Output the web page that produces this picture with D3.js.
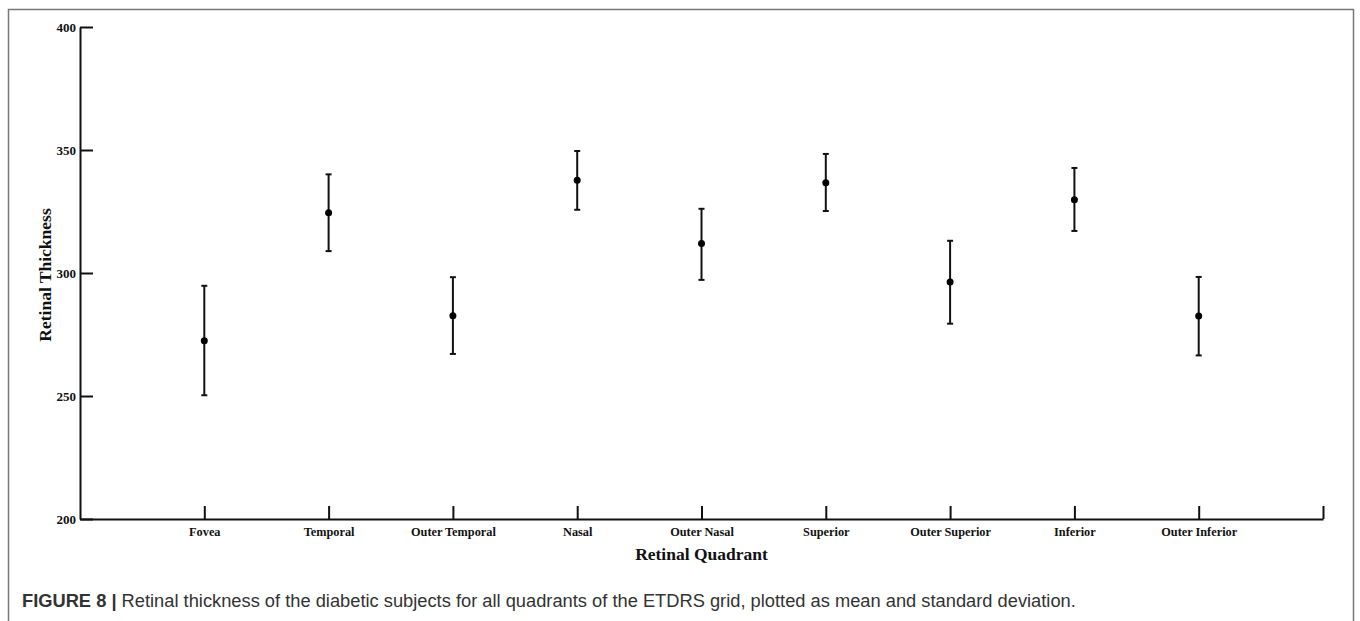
<!DOCTYPE html>
<html><head><meta charset="utf-8">
<script src="https://cdn.jsdelivr.net/npm/d3@7"></script>
<style>body{margin:0;background:#fff}</style>
</head><body>
<svg id="c" width="1360" height="621"></svg>
<script>
const categories = ["Fovea","Temporal","Outer Temporal","Nasal","Outer Nasal","Superior","Outer Superior","Inferior","Outer Inferior"];
const means = [272.5, 324.5, 282.6, 337.7, 312.0, 336.7, 296.3, 329.8, 282.5];
const uppers = [294.8, 340.1, 298.3, 349.6, 326.1, 348.4, 313.1, 342.7, 298.4];
const lowers = [250.3, 308.9, 267.1, 325.7, 297.2, 325.2, 279.4, 317.1, 266.5];
const yTicks = [200, 250, 300, 350, 400];

const svg = d3.select("#c");
// frame
svg.append("rect").attr("x", 8.5).attr("y", 9.5).attr("width", 1345).attr("height", 640)
  .attr("fill", "none").attr("stroke", "#777").attr("stroke-width", 1.5);

const x = d3.scaleLinear().domain([0, 10]).range([80, 1323]);
const y = d3.scaleLinear().domain([200, 400]).range([519, 27]);

const serif = "'Liberation Serif','Times New Roman',serif";

// y axis
const ya = svg.append("g").attr("transform", "translate(80,0)")
  .call(d3.axisRight(y).tickValues(yTicks).tickSize(13).tickSizeOuter(0).tickFormat(d3.format("d")));
ya.select(".domain").attr("stroke", "#111").attr("stroke-width", 2);
ya.selectAll(".tick line").attr("stroke", "#111").attr("stroke-width", 2);
ya.selectAll(".tick text").attr("x", -4).attr("text-anchor", "end")
  .attr("font-family", serif).attr("font-weight", "bold").attr("font-size", 13).attr("fill", "#111");

// x axis
const xa = svg.append("g").attr("transform", "translate(0,519)")
  .call(d3.axisTop(x).tickValues([1,2,3,4,5,6,7,8,9,10]).tickSize(13).tickSizeOuter(0).tickFormat(d => categories[d-1] || ""));
xa.select(".domain").attr("stroke", "#111").attr("stroke-width", 2);
xa.selectAll(".tick line").attr("stroke", "#111").attr("stroke-width", 2);
xa.selectAll(".tick text").attr("y", 17).attr("dy", 0)
  .attr("font-family", serif).attr("font-weight", "bold").attr("font-size", 12.3).attr("fill", "#111");

// axis titles
svg.append("text").attr("x", x(5)).attr("y", 560).attr("text-anchor", "middle")
  .attr("font-family", serif).attr("font-weight", "bold").attr("font-size", 17.5).attr("fill", "#111")
  .text("Retinal Quadrant");
svg.append("text").attr("transform", "translate(51,275) rotate(-90)").attr("text-anchor", "middle")
  .attr("font-family", serif).attr("font-weight", "bold").attr("font-size", 17.5).attr("fill", "#111")
  .text("Retinal Thickness");

// error bars
const g = svg.append("g");
categories.forEach((c, i) => {
  const cx = x(i + 1);
  g.append("line").attr("x1", cx).attr("x2", cx).attr("y1", y(uppers[i])).attr("y2", y(lowers[i]))
    .attr("stroke", "#111").attr("stroke-width", 2);
  [uppers[i], lowers[i]].forEach(v => {
    g.append("line").attr("x1", cx - 3).attr("x2", cx + 3).attr("y1", y(v)).attr("y2", y(v))
      .attr("stroke", "#111").attr("stroke-width", 2);
  });
  g.append("circle").attr("cx", cx).attr("cy", y(means[i])).attr("r", 3.5).attr("fill", "#000");
});

// caption
const cap = svg.append("text").attr("x", 22).attr("y", 607)
  .attr("font-family", "'Liberation Sans',Arial,sans-serif").attr("font-size", 18.3).attr("fill", "#333");
cap.append("tspan").attr("font-weight", "bold").text("FIGURE 8 | ");
cap.append("tspan").text("Retinal thickness of the diabetic subjects for all quadrants of the ETDRS grid, plotted as mean and standard deviation.");
</script>
</body></html>
